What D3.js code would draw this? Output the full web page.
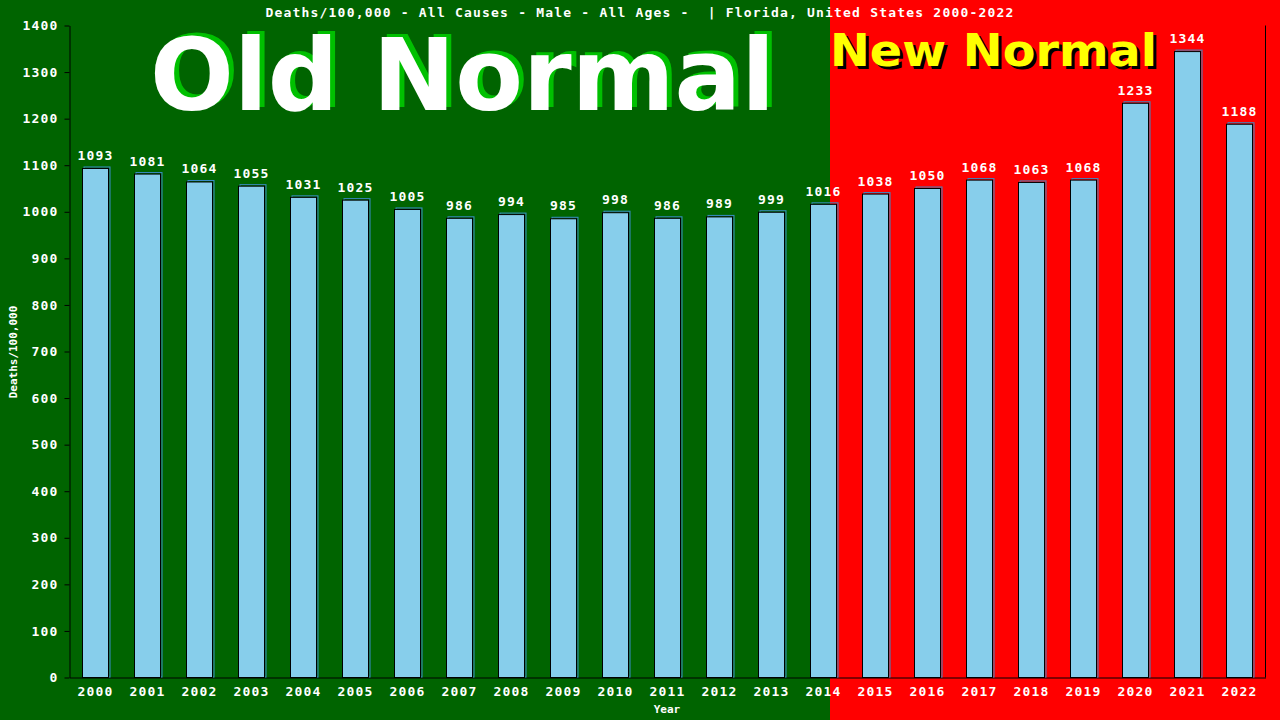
<!DOCTYPE html>
<html>
<head>
<meta charset="utf-8">
<script src="https://cdn.jsdelivr.net/npm/d3@7"></script>
<style>
  html, body { margin: 0; padding: 0; background: #006400; }
  #div { width: 1280px; height: 720px; }
</style>
</head>
<body>
<div id="div"></div>
<script>
var years = ['2000', '2001', '2002', '2003', '2004', '2005', '2006', '2007', '2008', '2009', '2010', '2011',
  '2012', '2013', '2014', '2015', '2016', '2017', '2018', '2019', '2020', '2021', '2022'];
var deaths = [1093, 1081, 1064, 1055, 1031, 1025, 1005, 986, 994, 985, 998, 986,
  989, 999, 1016, 1038, 1050, 1068, 1063, 1068, 1233, 1344, 1188];
var yTicks = [0, 100, 200, 300, 400, 500, 600, 700, 800, 900, 1000, 1100, 1200, 1300, 1400];
var titleText = 'Deaths/100,000 - All Causes - Male - All Ages -  | Florida, United States 2000-2022';

var width = 1280,
  height = 720,
  padding = {
    top: 25.5,
    right: 14.5,
    bottom: 42.5,
    left: 69.5
  };

var mono = "'DejaVu Sans Mono', 'Liberation Mono', monospace";
var sans = "'DejaVu Sans', Verdana, sans-serif";

var svg = d3.select("#div")
  .append('svg')
  .attr('width', width)
  .attr('height', height);

var xScale = d3.scaleBand()
  .domain(years)
  .range([padding.left, width - padding.right])
  .paddingInner(0.5)
  .paddingOuter(0.25);

var yScale = d3.scaleLinear()
  .domain([0, 1400])
  .range([height - padding.bottom, padding.top]);

// background halves, red starts part way through the 2014 bar
var split = xScale('2014') + xScale.step() * 0.375;
svg.append('rect')
  .attr('x', 0).attr('y', 0)
  .attr('width', split).attr('height', height)
  .attr('fill', '#006400');
svg.append('rect')
  .attr('x', split).attr('y', 0)
  .attr('width', width - split).attr('height', height)
  .attr('fill', '#ff0000');

// big labels (shadow first, then face)
function bigText(x, y, size, len, color, str) {
  svg.append('text')
    .attr('x', x).attr('y', y)
    .attr('font-family', sans)
    .attr('font-weight', 'bold')
    .attr('font-size', size + 'px')
    .attr('textLength', len)
    .attr('lengthAdjust', 'spacingAndGlyphs')
    .attr('fill', color)
    .text(str);
}
bigText(155, 107, 100, 625, '#00c000', 'Old Normal');
bigText(150, 110, 100, 625, 'white', 'Old Normal');
bigText(split + 3, 69, 45, 327, 'black', 'New Normal');
bigText(split, 66, 45, 327, '#ffff00', 'New Normal');

// title
svg.append('text')
  .attr('x', width / 2).attr('y', 17)
  .attr('text-anchor', 'middle')
  .attr('font-family', mono)
  .attr('font-weight', 'bold')
  .attr('font-size', '13px')
  .attr('letter-spacing', '1.2px')
  .attr('fill', 'white')
  .style('white-space', 'pre')
  .text(titleText);

// y axis
var yAxis = d3.axisLeft()
  .scale(yScale)
  .tickValues(yTicks)
  .tickFormat(d3.format('d'))
  .tickSize(5)
  .tickSizeOuter(0)
  .tickPadding(6);
var gy = svg.append('g')
  .attr('transform', 'translate(' + padding.left + ',0)')
  .call(yAxis);
gy.select('.domain').attr('stroke', 'black');
gy.selectAll('line').attr('stroke', 'black');
gy.selectAll('text')
  .attr('fill', 'white')
  .attr('font-family', mono)
  .attr('font-weight', 'bold')
  .attr('font-size', '13px')
  .attr('letter-spacing', '1.2px');

// x axis
var xAxis = d3.axisBottom()
  .scale(xScale)
  .tickSize(0)
  .tickSizeOuter(0);
var gx = svg.append('g')
  .attr('transform', 'translate(0,' + (height - padding.bottom) + ')')
  .call(xAxis);
gx.select('.domain').attr('stroke', 'black');
gx.selectAll('text')
  .attr('y', 18)
  .attr('dy', 0)
  .attr('fill', 'white')
  .attr('font-family', mono)
  .attr('font-weight', 'bold')
  .attr('font-size', '13px')
  .attr('letter-spacing', '1.2px');

// right frame line
svg.append('line')
  .attr('x1', width - padding.right).attr('x2', width - padding.right)
  .attr('y1', padding.top).attr('y2', height - padding.bottom)
  .attr('stroke', 'black');

// bars
var bar = svg.selectAll('.bar')
  .data(deaths)
  .enter().append('g')
  .attr('class', 'bar')
  .attr('transform', function (d, i) {
    return 'translate(' + xScale(years[i]) + ',' + yScale(d) + ')';
  });

bar.append('rect')
  .attr('x', 1.5)
  .attr('y', -1.5)
  .attr('width', xScale.bandwidth())
  .attr('height', function (d) {
    return yScale(0) - yScale(d) + 1;
  })
  .attr('fill', 'none')
  .attr('stroke', '#3a8cc8');

bar.append('rect')
  .attr('x', 0)
  .attr('width', xScale.bandwidth())
  .attr('height', function (d) {
    return yScale(0) - yScale(d);
  })
  .attr('fill', '#87ceeb')
  .attr('stroke', 'black');

bar.append('text')
  .attr('x', xScale.bandwidth() / 2)
  .attr('y', -8.5)
  .attr('text-anchor', 'middle')
  .attr('font-family', mono)
  .attr('font-weight', 'bold')
  .attr('font-size', '13px')
  .attr('letter-spacing', '1.2px')
  .attr('fill', 'white')
  .text(function (d) {
    return d;
  });

// axis titles
svg.append('text')
  .attr('x', 667).attr('y', 713)
  .attr('text-anchor', 'middle')
  .attr('font-family', mono)
  .attr('font-weight', 'bold')
  .attr('font-size', '11px')
  .attr('fill', 'white')
  .text('Year');

svg.append('text')
  .attr('transform', 'translate(17,352) rotate(-90)')
  .attr('text-anchor', 'middle')
  .attr('font-family', mono)
  .attr('font-weight', 'bold')
  .attr('font-size', '11px')
  .attr('fill', 'white')
  .text('Deaths/100,000');
</script>
</body>
</html>
